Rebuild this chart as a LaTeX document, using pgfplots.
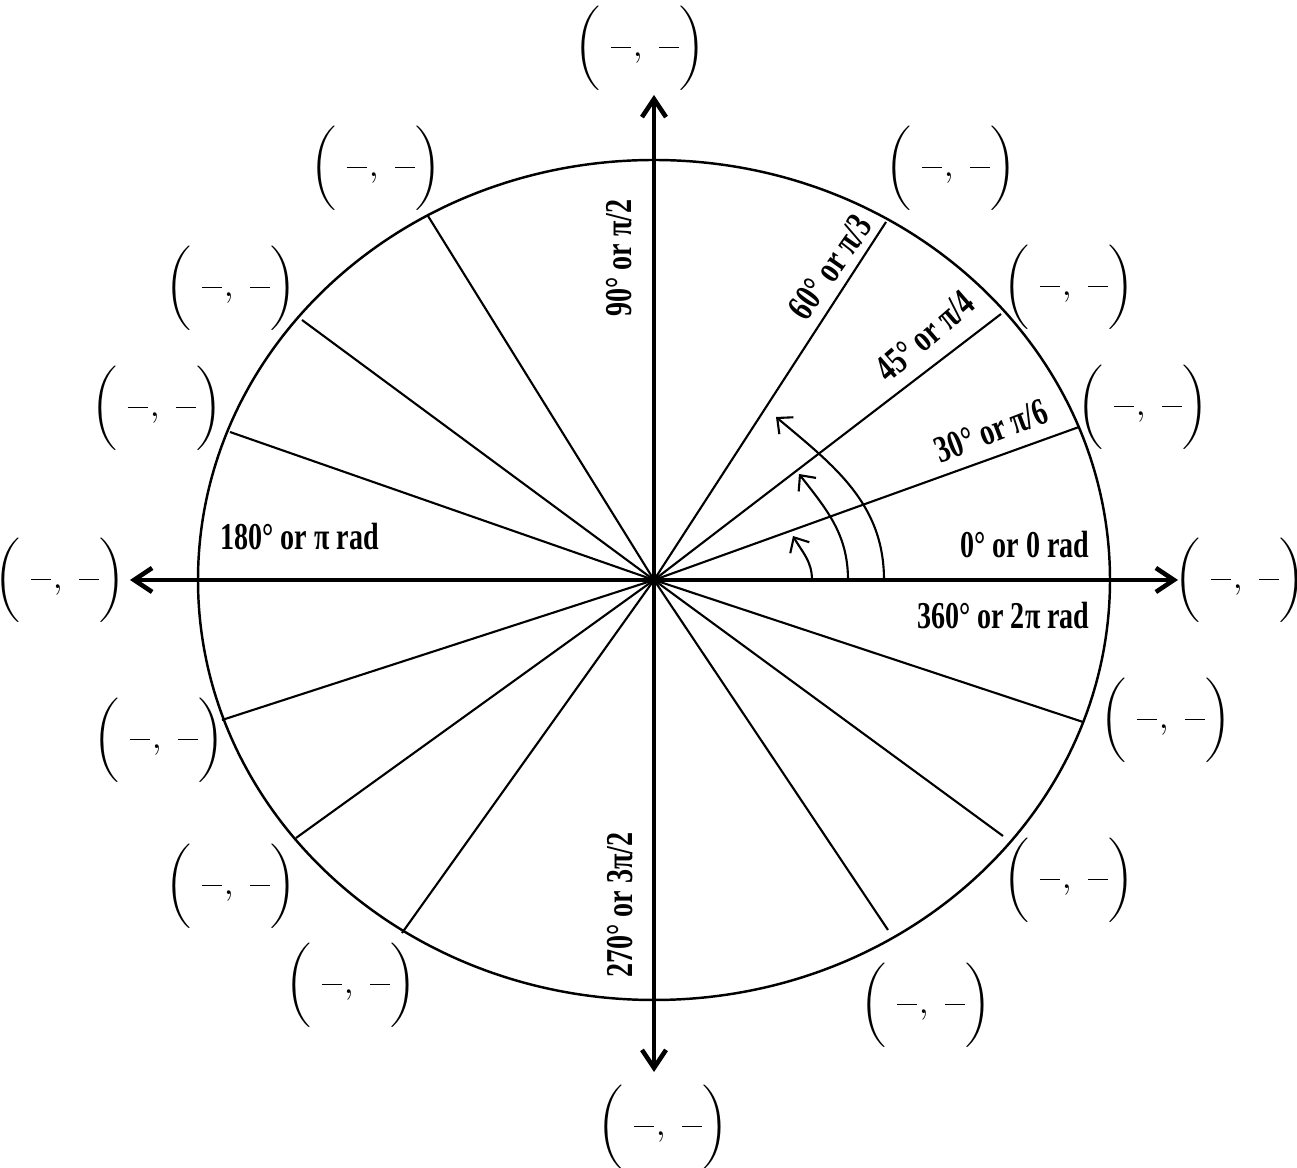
\documentclass[border=0pt]{standalone}
\usepackage{amsmath}
\usepackage{pgfplots}
\pgfplotsset{compat=1.18}
\usetikzlibrary{arrows.meta}
\usepackage{fontspec}
\setmainfont{Liberation Serif}
\newfontfamily\lbl[FakeStretch=0.74]{Liberation Serif}
\newcommand{\pair}{{\fontsize{9.8}{11}\selectfont$\bigg(\hspace{3pt}\rule[2.4pt]{5.7pt}{0.45pt}\hspace{0.6pt},\hspace{3pt}\rule[2.4pt]{5.7pt}{0.45pt}\hspace{0.2pt}\bigg)$}}
\newcommand{\lb}[1]{{\lbl\bfseries\fontsize{10.8}{12}\selectfont #1}}
\begin{document}
\begin{tikzpicture}
\begin{axis}[
  scale only axis, width=12.97cm, height=11.68cm,
  xmin=-654, xmax=643, ymin=-588, ymax=580,
  hide axis, clip=false]
% radial lines
\addplot[black, line width=0.6pt] coordinates {(0,0) (425,153)};
\addplot[black, line width=0.6pt] coordinates {(0,0) (347,266)};
\addplot[black, line width=0.6pt] coordinates {(0,0) (232,358)};
\addplot[black, line width=0.6pt] coordinates {(0,0) (-226,364)};
\addplot[black, line width=0.6pt] coordinates {(0,0) (-352,260)};
\addplot[black, line width=0.6pt] coordinates {(0,0) (-424,148)};
\addplot[black, line width=0.6pt] coordinates {(0,0) (-432,-140)};
\addplot[black, line width=0.6pt] coordinates {(0,0) (-358,-258)};
\addplot[black, line width=0.6pt] coordinates {(0,0) (-252,-353)};
\addplot[black, line width=0.6pt] coordinates {(0,0) (234,-350)};
\addplot[black, line width=0.6pt] coordinates {(0,0) (349,-256)};
\addplot[black, line width=0.6pt] coordinates {(0,0) (429,-142)};
% ellipse
\draw[black, line width=0.7pt] (axis cs:0,0) ellipse [x radius=456, y radius=420];
% axes
\addplot[black, line width=1.3pt, {Straight Barb[length=1.8mm,width=2.4mm]}-{Straight Barb[length=1.8mm,width=2.4mm]}] coordinates {(-524,0) (524,0)};
\addplot[black, line width=1.3pt, {Straight Barb[length=1.8mm,width=2.4mm]}-{Straight Barb[length=1.8mm,width=2.4mm]}] coordinates {(0,-492) (0,485)};
% small arcs
\draw[black, line width=0.6pt, -{Straight Barb[length=1.2mm,width=2.2mm]}] (axis cs:158,0) to[out=90,in=-60] (axis cs:139,44);
\draw[black, line width=0.6pt, -{Straight Barb[length=1.2mm,width=2.2mm]}] (axis cs:194,0) to[out=90,in=-52] (axis cs:145,106);
\draw[black, line width=0.6pt, -{Straight Barb[length=1.2mm,width=2.2mm]}] (axis cs:230,0) to[out=90,in=-40] (axis cs:122,163);
% angle labels
\node[anchor=east] at (axis cs:448,35) {\lb{0° or 0 rad}};
\node[anchor=east] at (axis cs:448,-36) {\lb{360° or 2π rad}};
\node[anchor=west] at (axis cs:-446,43) {\lb{180° or π rad}};
\node[rotate=90] at (axis cs:-35,322) {\lb{90° or π/2}};
\node[rotate=90] at (axis cs:-34,-325) {\lb{270° or 3π/2}};
\node[rotate=55] at (axis cs:176,313) {\lb{60° or π/3}};
\node[rotate=41] at (axis cs:271,244) {\lb{45° or π/4}};
\node[rotate=21] at (axis cs:337,149) {\lb{30° or π/6}};
% coordinate pairs
\node at (axis cs:-14,532) {\pair};
\node at (axis cs:297,412) {\pair};
\node at (axis cs:415,293) {\pair};
\node at (axis cs:489,173) {\pair};
\node at (axis cs:586,0) {\pair};
\node at (axis cs:512,-140) {\pair};
\node at (axis cs:415,-300) {\pair};
\node at (axis cs:272,-425) {\pair};
\node at (axis cs:9,-547) {\pair};
\node at (axis cs:-303,-405) {\pair};
\node at (axis cs:-423,-306) {\pair};
\node at (axis cs:-495,-160) {\pair};
\node at (axis cs:-594,0) {\pair};
\node at (axis cs:-497,172) {\pair};
\node at (axis cs:-423,292) {\pair};
\node at (axis cs:-278,412) {\pair};
\end{axis}
\pgfresetboundingbox
\path (current axis.south west) rectangle (current axis.north east);
\end{tikzpicture}
\end{document}
